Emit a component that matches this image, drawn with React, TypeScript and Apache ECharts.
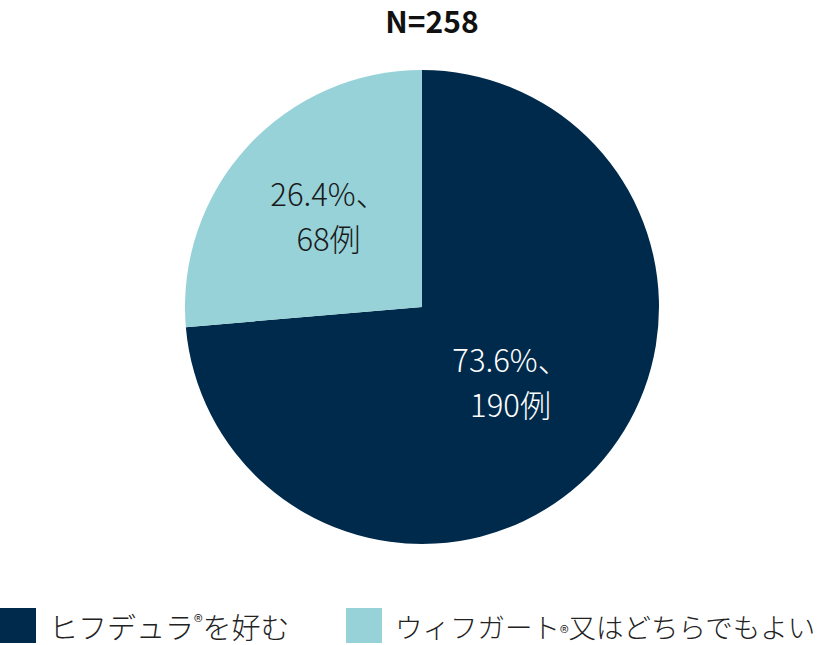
import React, { useEffect, useRef } from "react";
import * as echarts from "echarts";

const categories = ["ヒフデュラ®を好む", "ウィフガート®又はどちらでもよい"];
const values = [190, 68];
const percents = ["73.6%", "26.4%"];
const colors = ["#002a4b", "#97d2d9"];
const titleText = "N=258";

export default function App() {
  const ref = useRef<HTMLDivElement>(null);
  useEffect(() => {
    document.body.style.margin = "0";
    const chart = echarts.init(ref.current!, null, { renderer: "svg" });
    const font = "'Noto Sans CJK JP', 'Noto Sans', sans-serif";
    const legendText = (size: number) => ({
      fontFamily: font,
      fontSize: size,
      fontWeight: 300,
      color: "#222",
      padding: [0, 0, 0, 8],
      rich: {
        a: { fontFamily: font, fontSize: size, fontWeight: 300, color: "#222" },
        sup: { fontFamily: font, fontSize: 19, fontWeight: 300, color: "#222", verticalAlign: "top", padding: [0, 0, 10, 0] },
        sub: { fontFamily: font, fontSize: 19, fontWeight: 300, color: "#222", verticalAlign: "bottom", padding: [12, 0, 0, 0] },
      },
    });
    const fmt = (name: string) => {
      if (name === categories[0]) return "{a|ヒフデュラ}{sup|®}{a|を好む}";
      return "{a|ウィフガート}{sub|®}{a|又はどちらでもよい}";
    };
    const legendBase = {
      orient: "horizontal",
      bottom: 2,
      padding: 0,
      itemWidth: 36,
      itemHeight: 35,
      icon: "rect",
      selectedMode: false,
      formatter: fmt,
    };
    chart.setOption({
      animation: false,
      title: {
        text: titleText,
        left: 432,
        textAlign: "center",
        top: 2,
        padding: 0,
        textStyle: { fontFamily: font, fontSize: 30, lineHeight: 36, fontWeight: "bold", color: "#111" },
      },
      legend: [
        { ...legendBase, left: 0, data: [categories[0]], textStyle: legendText(29) },
        { ...legendBase, left: 346, data: [categories[1]], textStyle: legendText(27.5) },
      ],
      series: [
        {
          type: "pie",
          center: [422, 307],
          radius: [0, 237],
          startAngle: 90,
          clockwise: true,
          avoidLabelOverlap: false,
          label: {
            show: true,
            position: "inside",
            fontFamily: font,
            fontSize: 31,
            fontWeight: 300,
            lineHeight: 45,
            formatter: (p: any) => `${percents[p.dataIndex]}、\n${p.value}例`,
          },
          labelLine: { show: false },
          emphasis: { disabled: true },
          data: categories.map((c, i) => ({
            name: c,
            value: values[i],
            itemStyle: { color: colors[i] },
            label:
              i === 0
                ? { color: "#ffffff", offset: [-1, -8] }
                : { color: "#1a1a1a", offset: [-4, -10] },
          })),
        },
      ],
    });
    return () => chart.dispose();
  }, []);
  return <div ref={ref} style={{ width: 832, height: 645 }} />;
}
